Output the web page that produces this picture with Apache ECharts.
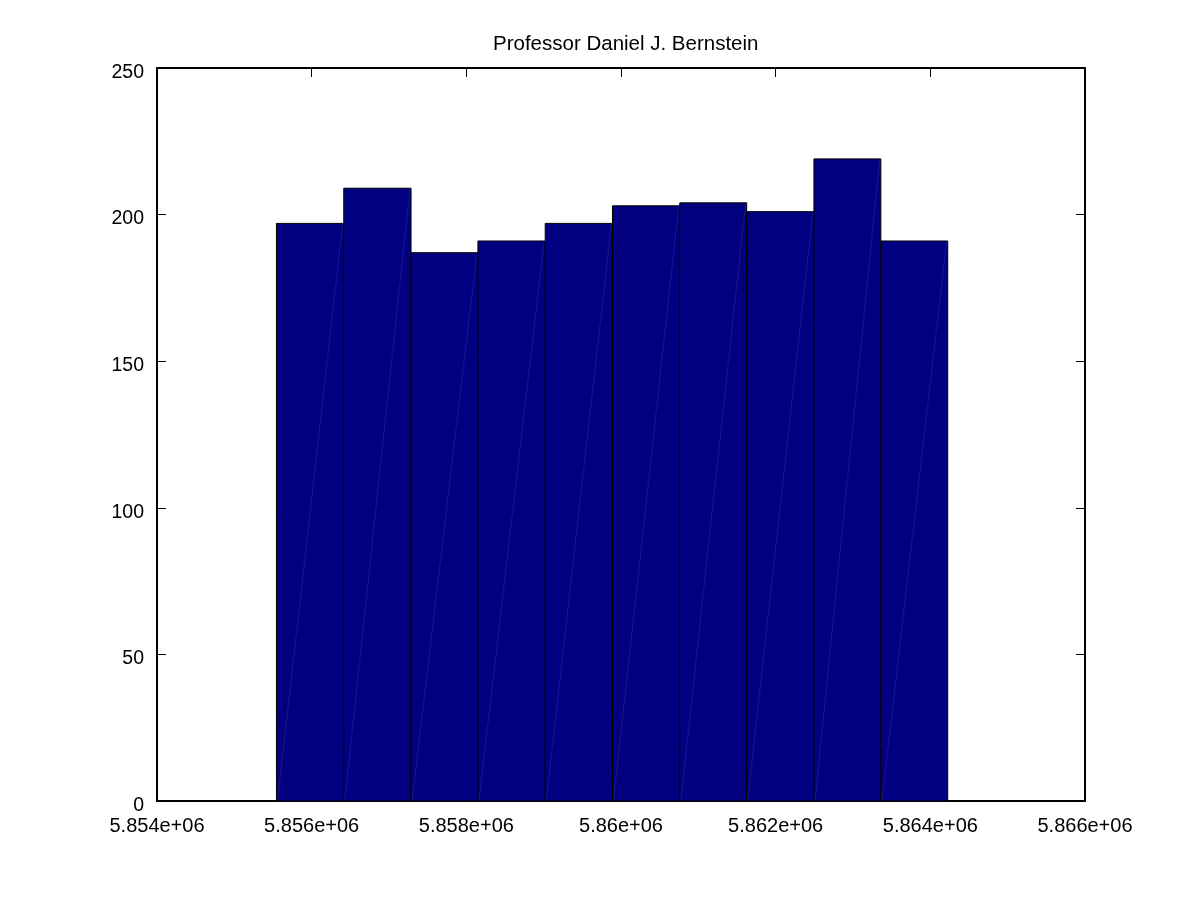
<!DOCTYPE html>
<html>
<head>
<meta charset="utf-8">
<script src="https://cdn.jsdelivr.net/npm/echarts@6/dist/echarts.min.js"></script>
<style>
  html, body { margin: 0; padding: 0; background: #fff; }
  #chart { width: 1200px; height: 900px; }
</style>
</head>
<body>
<div id="chart"></div>
<script>
// histogram bins (edges) and counts
const titleText = 'Professor Daniel J. Bernstein';
const binEdges = [5855545, 5856415, 5857285, 5858150, 5859020, 5859890, 5860760, 5861625, 5862495, 5863360, 5864225];
const counts = [197, 209, 187, 191, 197, 203, 204, 201, 219, 191];

const xMin = 5854000, xMax = 5866000, xStep = 2000;
const yMin = 0, yMax = 250, yStep = 50;

// gnuplot style %g tick label, e.g. 5.86e+06
function sci(v) {
  let m = (v / 1e6).toPrecision(4).replace(/0+$/, '').replace(/\.$/, '');
  return m + 'e+06';
}

const bars = counts.map((c, i) => [binEdges[i], binEdges[i + 1], c]);

var myChart = echarts.init(document.getElementById('chart'));

const font = 'Liberation Sans, Arial, sans-serif';
const axisLine = { show: true, onZero: false, lineStyle: { color: '#000', width: 2 } };
const tick = { show: true, inside: true, length: 9, lineStyle: { color: '#000', width: 1 } };

var option = {
  animation: false,
  backgroundColor: '#fff',
  title: {
    text: titleText,
    left: 488,
    top: 29,
    textStyle: { fontFamily: font, fontSize: 20.5, fontWeight: 'normal', color: '#000' }
  },
  grid: { left: 157, right: 115, top: 68, bottom: 99 },
  xAxis: [
    {
      type: 'value', position: 'bottom', min: xMin, max: xMax, interval: xStep,
      axisLine: axisLine, axisTick: tick, splitLine: { show: false },
      axisLabel: { formatter: sci, margin: 15, color: '#000', fontFamily: font, fontSize: 20 }
    },
    {
      type: 'value', position: 'top', min: xMin, max: xMax, interval: xStep,
      axisLine: axisLine, axisTick: tick, splitLine: { show: false },
      axisLabel: { show: false }
    }
  ],
  yAxis: [
    {
      type: 'value', position: 'left', min: yMin, max: yMax, interval: yStep,
      axisLine: axisLine, axisTick: tick, splitLine: { show: false },
      axisLabel: { margin: 13, verticalAlign: 'top', lineHeight: 9, color: '#000', fontFamily: font, fontSize: 19.5 }
    },
    {
      type: 'value', position: 'right', min: yMin, max: yMax, interval: yStep,
      axisLine: axisLine, axisTick: tick, splitLine: { show: false },
      axisLabel: { show: false }
    }
  ],
  series: [
    {
      type: 'custom',
      xAxisIndex: 0,
      yAxisIndex: 0,
      data: bars,
      renderItem: function (params, api) {
        const p0 = api.coord([api.value(0), 0]);
        const p1 = api.coord([api.value(1), api.value(2)]);
        return {
          type: 'group',
          children: [
            {
              type: 'rect',
              shape: { x: p0[0], y: p1[1], width: p1[0] - p0[0], height: p0[1] - p1[1] },
              style: { fill: '#000080', stroke: '#000', lineWidth: 1 }
            },
            {
              // faint diagonal seam seen in the original rendering
              type: 'line',
              shape: { x1: p0[0] + 1, y1: p0[1], x2: p1[0] - 1, y2: p1[1] },
              style: { stroke: 'rgba(110,110,200,0.35)', lineWidth: 0.6 }
            }
          ]
        };
      }
    }
  ]
};

myChart.setOption(option);
</script>
</body>
</html>
